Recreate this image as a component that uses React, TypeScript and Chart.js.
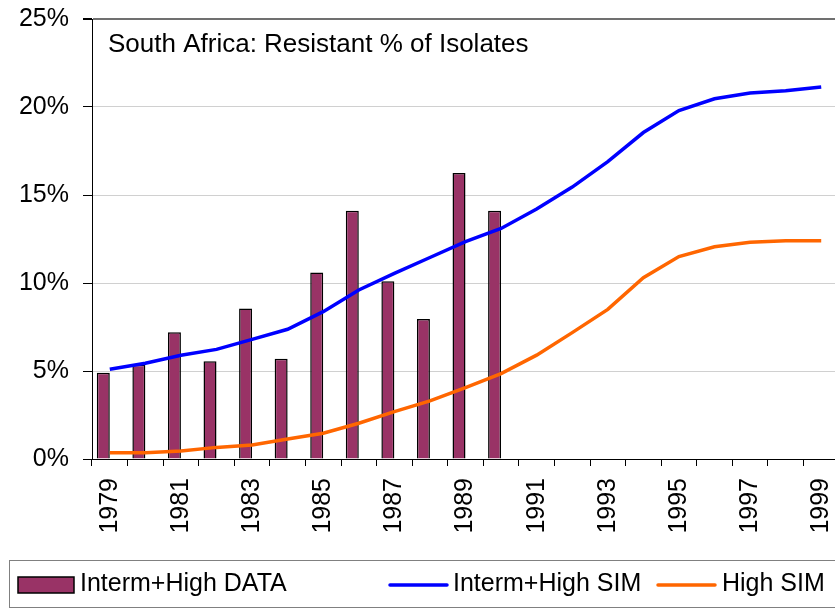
import React, { useEffect, useRef } from "react";
import { Chart, registerables } from "chart.js";

Chart.register(...registerables);

const years = [
  "1979", "1980", "1981", "1982", "1983", "1984", "1985", "1986", "1987", "1988",
  "1989", "1990", "1991", "1992", "1993", "1994", "1995", "1996", "1997", "1998", "1999",
];

const intermHighData = [4.9, 5.35, 7.2, 5.55, 8.55, 5.7, 10.6, 14.1, 10.1, 7.95, 16.25, 14.1];

const intermHighSim = [
  5.1, 5.44, 5.89, 6.23, 6.8, 7.37, 8.37, 9.6, 10.55, 11.45, 12.35, 13.1,
  14.2, 15.45, 16.9, 18.55, 19.8, 20.47, 20.8, 20.93, 21.14,
];

const highSim = [
  0.36, 0.36, 0.45, 0.66, 0.8, 1.14, 1.46, 2.03, 2.69, 3.3, 4.05, 4.85,
  5.9, 7.18, 8.5, 10.3, 11.5, 12.06, 12.31, 12.4, 12.4,
];

const yTicks = [0, 5, 10, 15, 20, 25];
const chartTitle = "South Africa: Resistant % of Isolates";
const seriesNames = ["Interm+High DATA", "Interm+High SIM", "High SIM"];

const FONT = "'Liberation Sans', Arial, sans-serif";
const BAR = "#993366";
const BLUE = "#0000FF";
const ORANGE = "#FF6600";

const titlePlugin = {
  id: "innerTitle",
  afterDraw(chart: any) {
    const { ctx, chartArea } = chart;
    ctx.save();
    ctx.font = `26px ${FONT}`;
    ctx.fillStyle = "#000";
    ctx.textAlign = "left";
    ctx.textBaseline = "alphabetic";
    ctx.fillText(chartTitle, chartArea.left + 16, chartArea.top + 33);
    ctx.restore();
  },
};

const legendPlugin = {
  id: "customLegend",
  afterDraw(chart: any) {
    const { ctx } = chart;
    ctx.save();
    ctx.strokeStyle = "#808080";
    ctx.lineWidth = 1;
    ctx.strokeRect(9.5, 560.5, chart.width, 47);
    ctx.font = `25px ${FONT}`;
    ctx.fillStyle = "#000";
    ctx.textAlign = "left";
    ctx.textBaseline = "middle";
    // bar swatch
    ctx.fillStyle = BAR;
    ctx.fillRect(18, 577, 56, 16);
    ctx.strokeStyle = "#000";
    ctx.lineWidth = 1.5;
    ctx.strokeRect(18, 577, 56, 16);
    ctx.fillStyle = "#000";
    ctx.fillText(seriesNames[0], 80, 584);
    // line swatches
    const drawLine = (x1: number, x2: number, color: string) => {
      ctx.beginPath();
      ctx.strokeStyle = color;
      ctx.lineWidth = 3.5;
      ctx.lineCap = "round";
      ctx.moveTo(x1, 585);
      ctx.lineTo(x2, 585);
      ctx.stroke();
    };
    drawLine(390, 447, BLUE);
    ctx.fillText(seriesNames[1], 453, 584);
    drawLine(658, 715, ORANGE);
    ctx.fillText(seriesNames[2], 722, 584);
    ctx.restore();
  },
};

export default function App() {
  const ref = useRef<HTMLCanvasElement | null>(null);

  useEffect(() => {
    if (!ref.current) return;
    const chart = new Chart(ref.current, {
      type: "bar",
      data: {
        labels: years,
        datasets: [
          {
            type: "line",
            label: seriesNames[1],
            data: intermHighSim,
            borderColor: BLUE,
            backgroundColor: BLUE,
            borderWidth: 3.5,
            pointRadius: 0,
            tension: 0,
            order: 0,
          } as any,
          {
            type: "line",
            label: seriesNames[2],
            data: highSim,
            borderColor: ORANGE,
            backgroundColor: ORANGE,
            borderWidth: 3.5,
            pointRadius: 0,
            tension: 0,
            order: 0,
          } as any,
          {
            type: "bar",
            label: seriesNames[0],
            data: intermHighData,
            backgroundColor: BAR,
            borderColor: "#000",
            borderWidth: 1.5,
            categoryPercentage: 0.73,
            barPercentage: 1,
            order: 1,
          },
          {
            type: "bar",
            label: "",
            data: [],
            backgroundColor: "rgba(0,0,0,0)",
            categoryPercentage: 0.73,
            barPercentage: 1,
            order: 2,
          },
        ],
      },
      options: {
        responsive: false,
        animation: false,
        devicePixelRatio: 1,
        layout: { padding: { top: 19, left: 0, right: 0, bottom: 0 } },
        plugins: {
          legend: { display: false },
          tooltip: { enabled: false },
          title: { display: false },
        },
        scales: {
          x: {
            type: "category",
            offset: true,
            grid: {
              offset: true,
              drawOnChartArea: false,
              drawTicks: true,
              tickLength: 7,
              tickColor: "#000",
              color: "#000",
            },
            border: { display: true, color: "#000", width: 1 },
            ticks: {
              autoSkip: false,
              maxRotation: 90,
              minRotation: 90,
              padding: 12,
              color: "#000",
              font: { family: FONT, size: 25 },
              callback: (_v: any, i: number) => (i % 2 === 0 ? years[i] : ""),
            },
            afterFit: (scale: any) => {
              scale.height = 150;
              scale.paddingLeft = 0;
              scale.paddingRight = 0;
            },
          },
          y: {
            min: yTicks[0],
            max: yTicks[yTicks.length - 1],
            afterBuildTicks: (scale: any) => {
              scale.ticks = yTicks.map((v) => ({ value: v }));
            },
            grid: {
              drawTicks: true,
              tickLength: 9,
              color: (c: any) =>
                c.tick && c.tick.value === 0
                  ? "rgba(0,0,0,0)"
                  : c.tick && c.tick.value === 25
                  ? "#707070"
                  : "#d0d0d0",
              lineWidth: (c: any) => (c.tick && c.tick.value === 25 ? 2 : 1),
              tickColor: "#000",
            },
            border: { display: true, color: "#000", width: 1 },
            ticks: {
              padding: 14,
              color: "#000",
              font: { family: FONT, size: 25 },
              callback: (v: any) => `${v}%`,
            },
            afterFit: (scale: any) => {
              scale.width = 92;
              scale.paddingTop = 0;
              scale.paddingBottom = 0;
            },
          },
        },
      },
      plugins: [titlePlugin, legendPlugin],
    });
    return () => chart.destroy();
  }, []);

  return (
    <div
      style={{
        position: "fixed",
        left: 0,
        top: 0,
        width: 835,
        height: 609,
        overflow: "hidden",
        background: "#fff",
      }}
    >
      <canvas ref={ref} width={839} height={609} style={{ width: 839, height: 609, display: "block" }} />
    </div>
  );
}
